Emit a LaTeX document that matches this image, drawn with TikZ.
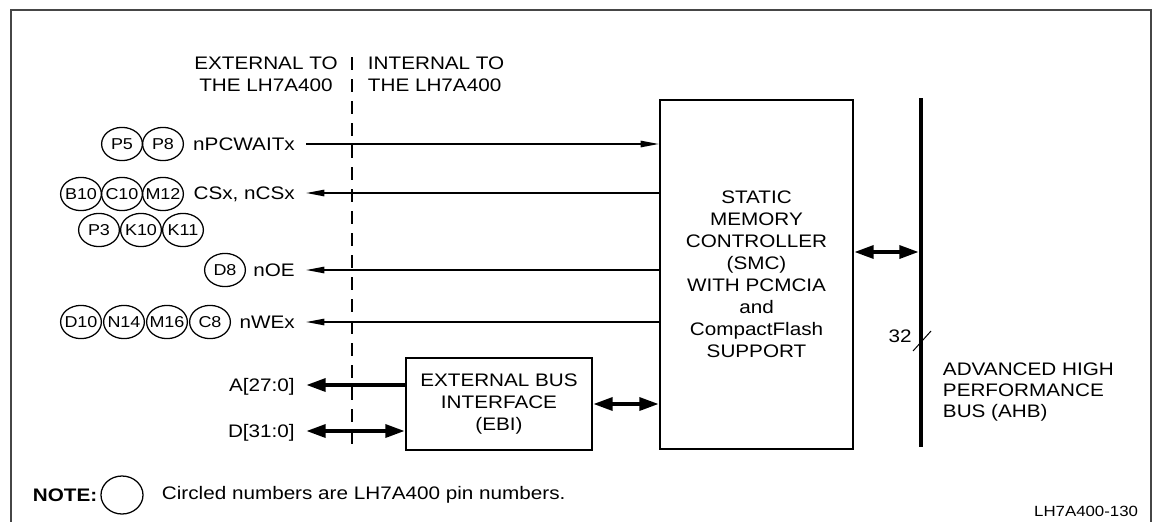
\documentclass[tikz,border=0pt]{standalone}
\usepackage{fontspec}
\setmainfont[FakeStretch=1.14]{Liberation Sans}
\usepackage{tikz}
\usetikzlibrary{
	arrows.meta, shapes.geometric, positioning, calc
}
\definecolor{framegray}     {RGB}{70,  70,  70}

\tikzset{
	block/.style={draw, line width=1.4pt, inner sep=0pt, align=center},
	lbl/.style={anchor=east, inner sep=0pt, text height=9.3pt, text depth=0pt},
	pin/.style={ellipse, draw, line width=0.9pt, inner xsep=-4pt, inner ysep=0pt,
		minimum width=1.02cm, minimum height=0.83cm,
		font=\fontsize{11.2}{13}\selectfont},
	gap/.style={shorten <=0.275cm},
	sigline/.style={line width=1.1pt, gap, >={Triangle[length=13pt,width=4.5pt]}},
	fatline/.style={line width=3pt, >={Triangle[length=14pt,width=9pt]}},
	divider/.style={line width=2pt, dash pattern=on 0.325cm off 0.225cm}
}

\begin{document}
\begin{tikzpicture}[x=0.025cm, y=-0.025cm, font=\fontsize{12.9}{15.6}\selectfont]
	\useasboundingbox (0,0) rectangle (1152,521);
	\draw[framegray, line width=1.1pt] (11,540) -- (11,10) -- (1151,10) -- (1151,540);

	\node[block, minimum width=4.825cm, minimum height=8.725cm] (smc) at (756.5,274.5)
		{STATIC\\MEMORY\\CONTROLLER\\(SMC)\\WITH PCMCIA\\and\\CompactFlash\\SUPPORT};
	\node[block, minimum width=4.65cm, minimum height=2.3cm] (ebi) at (499,404)
		{EXTERNAL BUS\\INTERFACE\\(EBI)};

	\coordinate (divTop) at (352,57);
	\coordinate (divBot) at (352,452);
	\draw[divider] (divTop) -- (divBot);
	\node[align=center] (extSide) at (266,74) {EXTERNAL TO\\THE LH7A400};
	\node[align=left, anchor=west] (intSide) at (363,74) {INTERNAL TO\\THE LH7A400};

	\node[lbl] (wait) at (295,144) {nPCWAITx};
	\node[lbl] (cs)   at (295,193) {CSx, nCSx};
	\node[lbl] (oe)   at (295,270) {nOE};
	\node[lbl] (we)   at (295,322) {nWEx};
	\node[lbl] (addr) at (295,385) {A[27:0]};
	\node[lbl] (data) at (295,431) {D[31:0]};

	\draw[sigline,->] (wait.east) -- (wait.east -| smc.west);
	\foreach \s in {cs,oe,we}{\draw[sigline,<-] (\s.east) -- (\s.east -| smc.west);}
	\draw[fatline,gap,<-] (addr.east) -- (addr.east -| ebi.west);
	\draw[fatline,gap,<->] (data.east) -- (data.east -| ebi.west);
	\draw[fatline,<->] (ebi.east) -- (ebi.east -| smc.west);

	\foreach \p/\x/\y in {P5/122/144, P8/163/144, B10/81/194, C10/122/194, M12/163/194,
		P3/99/230, K10/141/230, K11/183/230, D8/225/270,
		D10/81/322, N14/124/322, M16/167/322, C8/210/322}{\node[pin] (pin\p) at (\x,\y) {\p};}

	\coordinate (ahbTop) at (921,98);
	\coordinate (ahbBot) at (921,447);
	\draw[line width=3.2pt] (ahbTop) -- (ahbBot);
	\coordinate (ahbTap) at (919,252);
	\draw[fatline,<->] (ahbTap -| smc.east) -- (ahbTap);
	\node (busWidth) at (900,336) {32};
	\coordinate (cut) at (922,341);
	\draw[line width=0.7pt] ([shift={(-9,10)}]cut) -- ([shift={(9,-10)}]cut);
	\node[anchor=west, align=left, font=\fontsize{12.9}{15}\selectfont] (ahb) at (938,392)
		{ADVANCED HIGH\\PERFORMANCE\\BUS (AHB)};

	\node[anchor=west, font=\fontsize{12.9}{15.6}\selectfont\bfseries] (noteHead) at (28,495) {NOTE:};
	\node[pin, minimum width=1.05cm, minimum height=0.95cm] (noteRing) at (122,495) {};
	\node[anchor=west] (noteText) at (157,495) {Circled numbers are LH7A400 pin numbers.};
	\node[anchor=east, font=\fontsize{10.5}{12}\selectfont] (figId) at (1143,511) {LH7A400-130};
\end{tikzpicture}
\end{document}
